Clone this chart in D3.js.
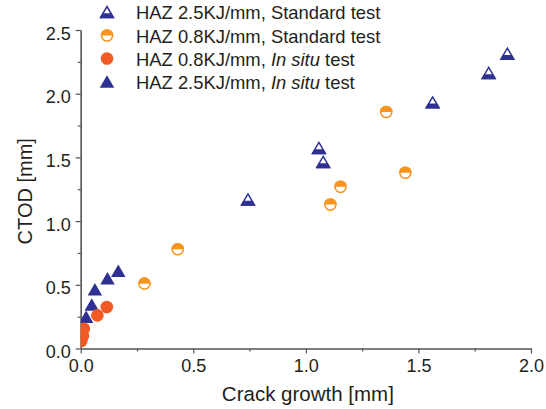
<!DOCTYPE html>
<html>
<head>
<meta charset="utf-8">
<script src="https://cdn.jsdelivr.net/npm/d3@7"></script>
<style>
  body { margin: 0; background: #fff; }
  svg { display: block; font-family: "Liberation Sans", Arial, sans-serif; }
  .axis path, .axis line { stroke: #555; stroke-width: 1.2; }
  .axis text { fill: #231f20; font-size: 18px; }
</style>
</head>
<body>
<svg id="chart" width="546" height="409"></svg>
<script>
// values
var stdTriX = [0.743, 1.058, 1.077, 1.563, 1.812, 1.895];
var stdTriY = [1.17, 1.574, 1.464, 1.932, 2.163, 2.314];
var stdCircX = [0.283, 0.431, 1.109, 1.154, 1.357, 1.442];
var stdCircY = [0.509, 0.779, 1.130, 1.269, 1.856, 1.379];
var situTriX = [0.024, 0.049, 0.063, 0.119, 0.167];
var situTriY = [0.25, 0.345, 0.466, 0.552, 0.61];
var situCircX = [0.003, 0.01, 0.014, 0.074, 0.116];
var situCircY = [0.06, 0.10, 0.155, 0.26, 0.326];

var xTicks = [0, 0.5, 1.0, 1.5, 2.0];
var xMinor = [0.25, 0.75, 1.25, 1.75];
var yTicks = [0, 0.5, 1.0, 1.5, 2.0, 2.5];
var yMinor = [0.25, 0.75, 1.25, 1.75, 2.25];

var legendLabels = [
  ['HAZ 2.5KJ/mm, ', 'Standard', ' test'],
  ['HAZ 0.8KJ/mm, ', 'Standard', ' test'],
  ['HAZ 0.8KJ/mm, ', 'In situ', ' test'],
  ['HAZ 2.5KJ/mm, ', 'In situ', ' test']
];

var blue = '#2e3192', orange = '#f7941e', red = '#f15a24';

var svg = d3.select('#chart');
var x = d3.scaleLinear().domain([0, 2]).range([80.7, 531]);
var y = d3.scaleLinear().domain([0, 2.5]).range([348.5, 30]);

// axes: minor ticks first, then major ticks with labels
svg.append('g').attr('class', 'axis').attr('transform', 'translate(0,' + y(0) + ')')
  .call(d3.axisBottom(x).tickValues(xMinor).tickSize(3).tickSizeOuter(0).tickFormat(''));
svg.append('g').attr('class', 'axis').attr('transform', 'translate(' + x(0) + ',0)')
  .call(d3.axisLeft(y).tickValues(yMinor).tickSize(3).tickSizeOuter(0).tickFormat(''));

svg.append('g').attr('class', 'axis').attr('transform', 'translate(0,' + y(0) + ')')
  .call(d3.axisBottom(x).tickValues(xTicks).tickSize(5).tickSizeOuter(0).tickPadding(6).tickFormat(d3.format('.1f')));
var yAxis = svg.append('g').attr('class', 'axis').attr('transform', 'translate(' + x(0) + ',0)')
  .call(d3.axisLeft(y).tickValues(yTicks).tickSize(5).tickSizeOuter(0).tickPadding(5).tickFormat(d3.format('.1f')));
yAxis.selectAll('text').attr('dy', '0.5em');

// axis titles
svg.append('text')
  .attr('x', (x(0) + x(2)) / 2 + 2).attr('y', 401)
  .attr('text-anchor', 'middle').attr('fill', '#231f20').attr('font-size', 20.5)
  .text('Crack growth [mm]');
svg.append('text')
  .attr('transform', 'translate(32,' + ((y(0) + y(2.5)) / 2 + 2) + ') rotate(-90)')
  .attr('text-anchor', 'middle').attr('fill', '#231f20').attr('font-size', 20)
  .text('CTOD [mm]');

// markers
var triW = 14.5, triH = 12.5, rad = 6.3;

function triPath (w, h) {
  return 'M0,' + (-h / 2) + 'L' + (w / 2) + ',' + (h / 2) + 'L' + (-w / 2) + ',' + (h / 2) + 'Z';
}

function drawHalfTri (g) {
  var f = 0.4;
  var yTop = triH / 2 - f * triH;
  var hw = (triW / 2) * ((yTop + triH / 2) / triH);
  g.append('path').attr('d', triPath(triW - 1.5, triH - 1.5)).attr('fill', '#fff')
    .attr('stroke', blue).attr('stroke-width', 1.5);
  g.append('path')
    .attr('d', 'M' + (-hw) + ',' + yTop + 'L' + hw + ',' + yTop + 'L' + (triW / 2) + ',' + (triH / 2) + 'L' + (-triW / 2) + ',' + (triH / 2) + 'Z')
    .attr('fill', blue);
}

function drawHalfCirc (g) {
  g.append('circle').attr('r', rad - 0.75).attr('fill', '#fff')
    .attr('stroke', orange).attr('stroke-width', 1.5);
  g.append('path')
    .attr('d', d3.arc()({innerRadius: 0, outerRadius: rad, startAngle: -Math.PI / 2, endAngle: Math.PI / 2}))
    .attr('fill', orange);
}

function drawSolidTri (g) {
  g.append('path').attr('d', triPath(triW, triH)).attr('fill', blue);
}

function drawSolidCirc (g) {
  g.append('circle').attr('r', rad).attr('fill', red);
}

svg.append('clipPath').attr('id', 'plotClip')
  .append('rect').attr('x', x(0)).attr('y', 0).attr('width', x(2) - x(0) + 10).attr('height', y(0));

var plot = svg.append('g').attr('clip-path', 'url(#plotClip)');

function series (xs, ys, drawFn) {
  xs.forEach(function (xv, i) {
    var g = plot.append('g').attr('transform', 'translate(' + x(xv) + ',' + y(ys[i]) + ')');
    drawFn(g);
  });
}

series(stdTriX, stdTriY, drawHalfTri);
series(stdCircX, stdCircY, drawHalfCirc);
series(situTriX, situTriY, drawSolidTri);
series(situCircX, situCircY, drawSolidCirc);

// legend
var legendDraw = [drawHalfTri, drawHalfCirc, drawSolidCirc, drawSolidTri];
var legendY = [12, 35.5, 58.5, 81.5];
legendLabels.forEach(function (parts, i) {
  var g = svg.append('g').attr('transform', 'translate(107,' + legendY[i] + ')');
  legendDraw[i](g);
  var t = svg.append('text').attr('x', 136).attr('y', legendY[i] + 7)
    .attr('fill', '#231f20').attr('font-size', 18.4);
  t.append('tspan').text(parts[0]);
  t.append('tspan').attr('font-style', parts[1] === 'In situ' ? 'italic' : 'normal').text(parts[1]);
  t.append('tspan').text(parts[2]);
});
</script>
</body>
</html>
